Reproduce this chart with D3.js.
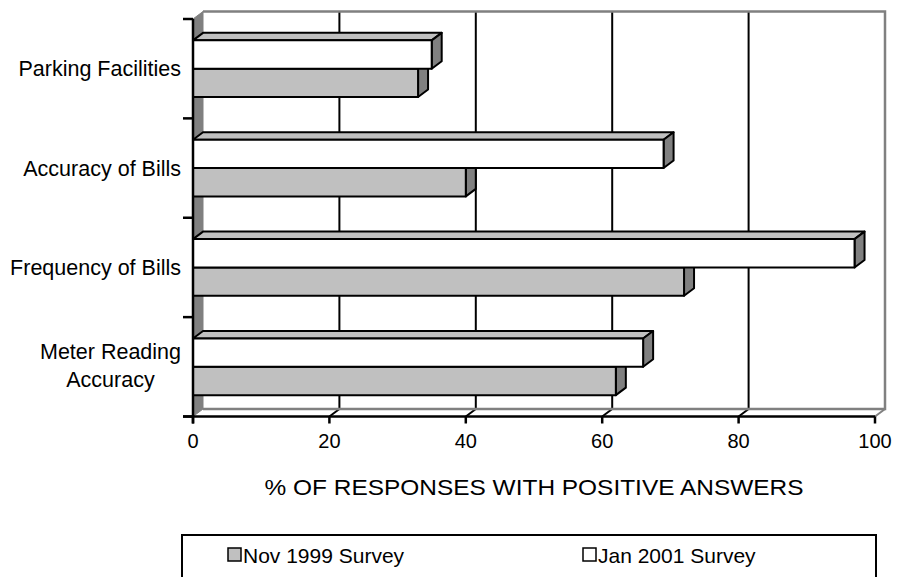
<!DOCTYPE html>
<html>
<head>
<meta charset="utf-8">
<script src="https://cdn.jsdelivr.net/npm/d3@7"></script>
<style>
  html, body { margin: 0; padding: 0; background: #fff; }
  svg { display: block; font-family: "Liberation Sans", Arial, sans-serif; }
</style>
</head>
<body>
<svg id="chart" width="897" height="577"></svg>
<script>
// ---- data ----
const categories = ["Parking Facilities", "Accuracy of Bills", "Frequency of Bills", "Meter Reading Accuracy"];
const categoryLines = [["Parking Facilities"], ["Accuracy of Bills"], ["Frequency of Bills"], ["Meter Reading", "Accuracy"]];
const seriesNames = ["Jan 2001 Survey", "Nov 1999 Survey"];
const nov1999 = [33, 40, 72, 62];
const jan2001 = [35, 69, 97, 66];
const xTicks = [0, 20, 40, 60, 80, 100];
const axisTitle = "% OF RESPONSES WITH POSITIVE ANSWERS";
const legendOrder = ["Nov 1999 Survey", "Jan 2001 Survey"];

// ---- layout ----
const svg = d3.select("#chart");
const DX = 10, DY = 7.5;             // 3-D depth offset
const pLeft = 193, pRight = 875, pTop = 19, pBottom = 416.5;
const fills = { "Nov 1999 Survey": "#c0c0c0", "Jan 2001 Survey": "#ffffff" };
const valuesBy = { "Nov 1999 Survey": nov1999, "Jan 2001 Survey": jan2001 };

const x = d3.scaleLinear().domain([0, 100]).range([pLeft, pRight]);
const y = d3.scaleBand().domain(categories).range([pTop, pBottom]).paddingInner(0.43).paddingOuter(0.215);
const ySub = d3.scaleBand().domain(seriesNames).range([0, y.bandwidth()]);
const yAxisBand = d3.scaleBand().domain(categories).range([pTop, pBottom]);

// ---- back wall / floor / left wall ----
const g = svg.append("g");
xTicks.filter(t => t > 0 && t < 100).forEach(t => {
  g.append("line").attr("x1", x(t) + DX).attr("x2", x(t) + DX)
    .attr("y1", pTop - DY).attr("y2", pBottom - DY)
    .attr("stroke", "#000").attr("stroke-width", 2);
});
xTicks.filter(t => t > 0).forEach(t => {
  g.append("line").attr("x1", x(t)).attr("x2", x(t) + DX)
    .attr("y1", pBottom).attr("y2", pBottom - DY)
    .attr("stroke", t === 100 ? "#808080" : "#000").attr("stroke-width", 2);
});
g.append("path")
  .attr("d", `M${x(0) + DX},${pTop - DY} L${x(100) + DX},${pTop - DY} L${x(100) + DX},${pBottom - DY} L${x(0) + DX},${pBottom - DY}`)
  .attr("fill", "none").attr("stroke", "#808080").attr("stroke-width", 2.5);
g.append("path")
  .attr("d", `M${x(0)},${pTop} L${x(0) + DX},${pTop - DY} L${x(0) + DX},${pBottom - DY} L${x(0)},${pBottom} Z`)
  .attr("fill", "#808080").attr("stroke", "#808080").attr("stroke-width", 1);

// ---- bars ----
const bars = svg.append("g");
categories.forEach((c, i) => {
  ["Nov 1999 Survey", "Jan 2001 Survey"].forEach(s => {
    const v = valuesBy[s][i];
    const x0 = x(0), x1 = x(v);
    const y0 = y(c) + ySub(s), y1 = y0 + ySub.bandwidth();
    const grp = bars.append("g").attr("stroke", "#000").attr("stroke-width", 2).attr("stroke-linejoin", "round");
    grp.append("path").attr("d", `M${x0},${y0} L${x0 + DX},${y0 - DY} L${x1 + DX},${y0 - DY} L${x1},${y0} Z`)
      .attr("fill", "#c0c0c0");
    grp.append("path").attr("d", `M${x1},${y0} L${x1 + DX},${y0 - DY} L${x1 + DX},${y1 - DY} L${x1},${y1} Z`)
      .attr("fill", "#808080");
    grp.append("rect").attr("x", x0).attr("y", y0).attr("width", x1 - x0).attr("height", y1 - y0)
      .attr("fill", fills[s]);
  });
});

// ---- axes ----
const ax = svg.append("g").attr("stroke", "#000").attr("stroke-width", 2.5);
ax.append("line").attr("x1", pLeft).attr("x2", pLeft).attr("y1", pTop).attr("y2", pBottom + 7);
ax.append("line").attr("x1", pLeft - 10).attr("x2", pRight).attr("y1", pBottom).attr("y2", pBottom);
[...categories.map(c => yAxisBand(c)), pBottom].forEach(t => {
  ax.append("line").attr("x1", pLeft - 10).attr("x2", pLeft).attr("y1", t).attr("y2", t);
});
xTicks.forEach(t => {
  ax.append("line").attr("x1", x(t)).attr("x2", x(t)).attr("y1", pBottom).attr("y2", pBottom + 7);
});

svg.append("g").selectAll("text").data(xTicks).join("text")
  .attr("x", d => x(d)).attr("y", 448)
  .attr("text-anchor", "middle").attr("font-size", 20).attr("fill", "#000")
  .text(d => d);

const cl = svg.append("g");
categories.forEach((c, i) => {
  const lines = categoryLines[i];
  const cy = yAxisBand(c) + yAxisBand.bandwidth() / 2;
  const lh = 28.4;
  const t = cl.append("text").attr("font-size", 21.5).attr("fill", "#000").attr("text-anchor", "middle");
  const tspans = lines.map((ln, k) => t.append("tspan")
    .attr("y", cy + (lines.length > 1 ? 6 : 7.5) + (k - (lines.length - 1) / 2) * lh).text(ln));
  const maxW = d3.max(tspans, ts => ts.node().getComputedTextLength());
  tspans.forEach(ts => ts.attr("x", 181 - maxW / 2));
});

svg.append("text").attr("x", (pLeft + pRight) / 2).attr("y", 495)
  .attr("text-anchor", "middle").attr("font-size", 22).attr("fill", "#000")
  .attr("textLength", 539).attr("lengthAdjust", "spacingAndGlyphs")
  .text(axisTitle);

// ---- legend ----
const lg = svg.append("g");
lg.append("rect").attr("x", 182).attr("y", 535).attr("width", 694).attr("height", 50)
  .attr("fill", "#fff").attr("stroke", "#000").attr("stroke-width", 2);
const legendX = { "Nov 1999 Survey": 228, "Jan 2001 Survey": 583 };
legendOrder.forEach(s => {
  lg.append("rect").attr("x", legendX[s]).attr("y", 548).attr("width", 13).attr("height", 13)
    .attr("fill", fills[s]).attr("stroke", "#000").attr("stroke-width", 1.5);
  lg.append("text").attr("x", legendX[s] + 15).attr("y", 563)
    .attr("font-size", 21).attr("fill", "#000").text(s);
});
</script>
</body>
</html>
